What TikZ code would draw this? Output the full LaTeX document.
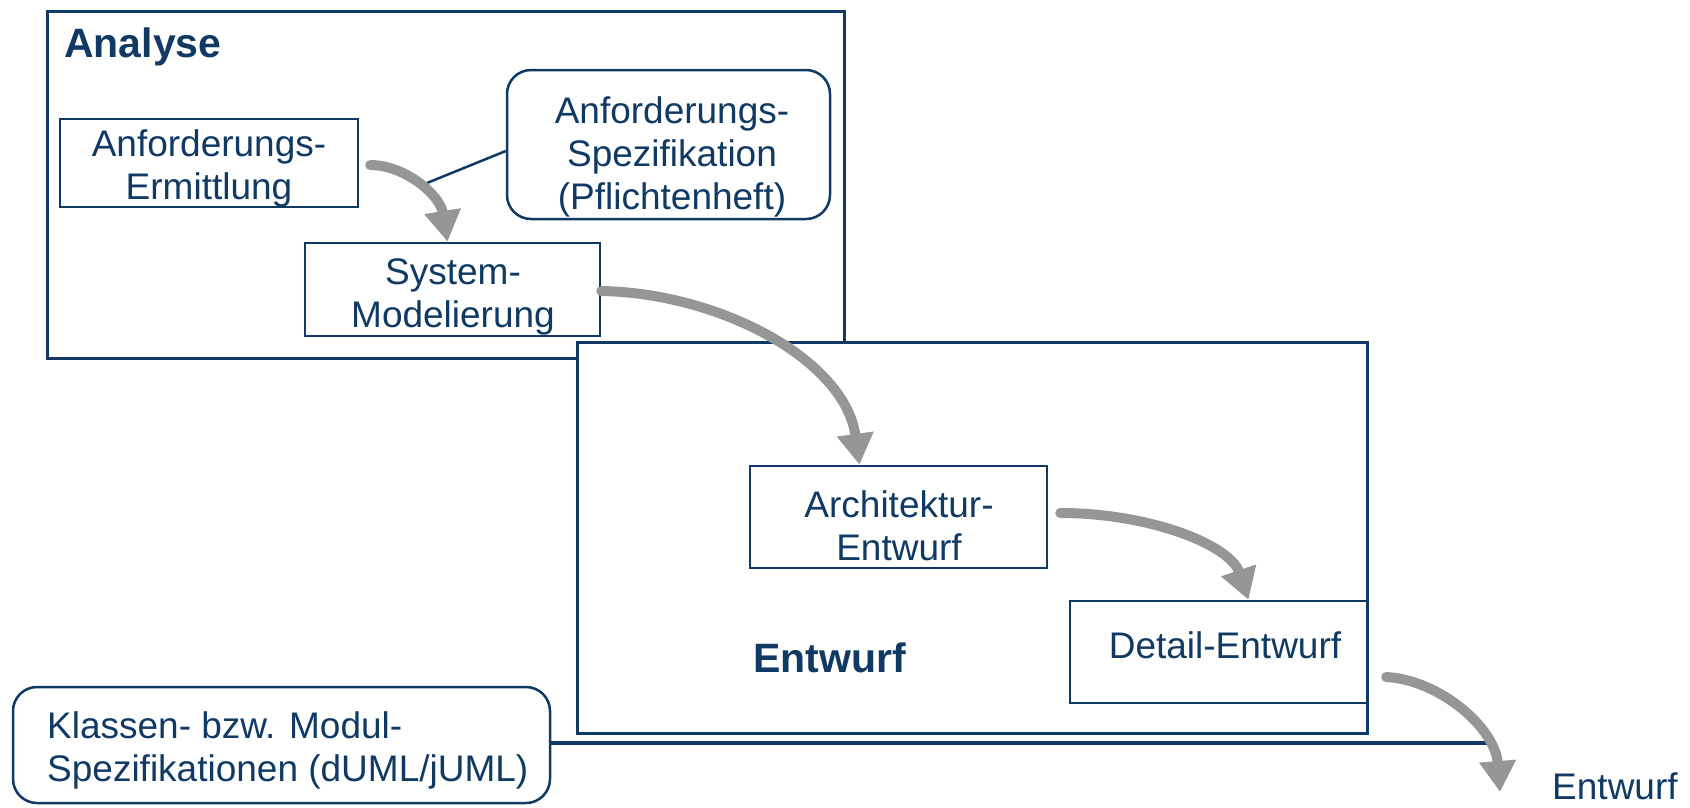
\documentclass[tikz,border=0pt]{standalone}
\usepackage{fontspec}
\setmainfont{Liberation Sans}
\usetikzlibrary{arrows.meta}
\definecolor{dblue}{RGB}{16,58,100}
\definecolor{agray}{RGB}{150,150,150}
\tikzset{
  box/.style={draw=dblue, line width=2.5pt, fill=white, inner sep=0pt, rectangle},
  bigbox/.style={draw=dblue, line width=3pt, fill=white, inner sep=0pt, rectangle},
  rbox/.style={box, rounded corners=24pt},
  txt/.style={text=dblue, inner sep=0pt, align=center, font=\fontsize{37}{43}\selectfont},
  ttl/.style={text=dblue, inner sep=0pt, font=\bfseries\fontsize{41}{43}\selectfont},
  flow/.style={draw=agray, line width=10pt, line cap=round, -{Triangle[length=31pt,width=35pt]}},
  link/.style={draw=dblue, line width=2.5pt},
  hlink/.style={draw=dblue, line width=4.5pt}
}
\begin{document}
\begin{tikzpicture}[x=1pt,y=-1pt]
\useasboundingbox (0,0) rectangle (1690,807);
% Analyse block
\node[bigbox, minimum width=797pt, minimum height=347pt] (analyse) at (445.5,184.5) {};
\node[ttl, anchor=base west] (analyset) at (64,57) {Analyse};
\node[box, minimum width=298pt, minimum height=88pt] (ae) at (209,163) {};
\node[txt] (aet) at (209,168) {Anforderungs-\\Ermittlung};
\node[rbox, minimum width=323pt, minimum height=149pt] (spec) at (668.5,144.5) {};
\node[txt] (spect) at (672,157) {Anforderungs-\\Spezifikation\\(Pflichtenheft)};
\node[box, minimum width=295pt, minimum height=93pt] (sm) at (452.5,289.5) {};
\node[txt] (smt) at (453,297) {System-\\Modelierung};
% Entwurf block
\node[bigbox, minimum width=790pt, minimum height=391pt] (entwurf) at (972,537.5) {};
\node[ttl, anchor=base west] (entwurft) at (753,672) {Entwurf};
\node[box, minimum width=297pt, minimum height=102pt] (ar) at (898.5,517) {};
\node[txt] (art) at (899,526) {Architektur-\\Entwurf};
\node[box, minimum width=297pt, minimum height=102pt] (de) at (1218.5,652) {};
\node[txt] (det) at (1225,645) {Detail-Entwurf};
% Klassen
\node[rbox, minimum width=537pt, minimum height=116pt] (kl) at (281.5,745) {};
\node[txt, align=left, anchor=west] (klt) at (47,750) {Klassen- bzw. Modul-\\Spezifikationen (dUML/jUML)};
\node[txt, anchor=base west] (ent2) at (1552,799) {Entwurf};
% connectors
\coordinate (c1) at (427,183);
\coordinate (e4) at (1500,792);
\coordinate (h4) at (1493,743);
\draw[link] ([yshift=-6.5pt]spec.west) -- (c1);
\draw[hlink] ([yshift=2pt]kl.east) -- (h4);
\draw[flow] ([xshift=11pt,yshift=-2pt]ae.east) .. controls (405,165) and (440,195) .. ([xshift=-5pt]sm.north);
\draw[flow] ([yshift=-1.5pt]sm.east) .. controls (720,293) and (845,360) .. ([xshift=-39pt]ar.north);
\draw[flow] ([xshift=12pt,yshift=4pt]ar.east) .. controls (1150,513) and (1230,545) .. ([xshift=30pt]de.north);
\draw[flow] ([xshift=18pt,yshift=-25pt]de.east) .. controls (1440,680) and (1495,728) .. (e4);
\end{tikzpicture}
\end{document}
